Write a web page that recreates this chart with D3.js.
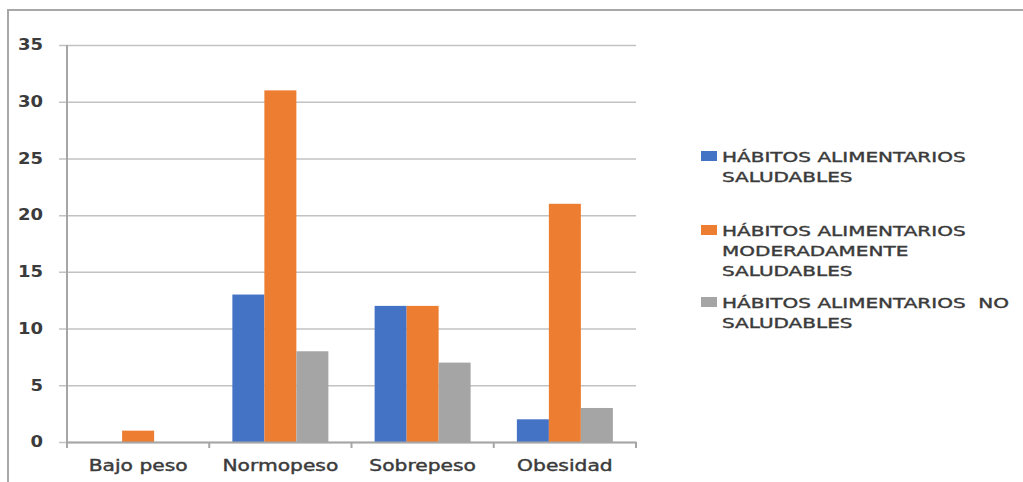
<!DOCTYPE html>
<html>
<head>
<meta charset="utf-8">
<script src="https://cdn.jsdelivr.net/npm/d3@7"></script>
<style>
    body { margin: 0; background: #fff; }
    text { font-family: "DejaVu Sans", sans-serif; fill: #3b3b3b; }
</style>
</head>
<body>
<div class="graph"></div>
<script>
// data ------------------
const categories = ['Bajo peso', 'Normopeso', 'Sobrepeso', 'Obesidad']
const seriesNames = [
    ['HÁBITOS ALIMENTARIOS', 'SALUDABLES'],
    ['HÁBITOS ALIMENTARIOS', 'MODERADAMENTE', 'SALUDABLES'],
    ['HÁBITOS ALIMENTARIOS  NO', 'SALUDABLES']
]
const saludables = [0, 13, 12, 2]
const moderados = [1, 31, 12, 21]
const noSaludables = [0, 8, 7, 3]
const yTicks = [0, 5, 10, 15, 20, 25, 30, 35]

const colours = ['#4472C4', '#ED7D31', '#A5A5A5']
const values = [saludables, moderados, noSaludables]

// text is drawn wider than the font, like the picture
function stretch(sel, k) {
    sel.each(function () {
        const len = this.getComputedTextLength()
        d3.select(this)
            .attr('textLength', len * k)
            .attr('lengthAdjust', 'spacingAndGlyphs')
    })
}

// config
const w = 1023
const h = 482
const plot = { left: 67, right: 636, top: 45, bottom: 442 }
const pad = 0.325

const svg = d3.select('.graph')
    .append('svg')
    .attr('width', w)
    .attr('height', h)

// frame
svg.append('rect')
    .attr('x', 8).attr('y', 10)
    .attr('width', 1100).attr('height', 600)
    .attr('fill', 'none')
    .attr('stroke', '#a8a8a8')
    .attr('stroke-width', 2)

// scales
const xOuter = d3.scaleBand()
    .domain(categories)
    .range([plot.left, plot.right])

const x = d3.scaleBand()
    .domain(categories)
    .range([plot.left, plot.right])
    .paddingInner(pad)
    .paddingOuter(pad / 2)

const xs = d3.scaleBand()
    .domain(d3.range(3))
    .range([0, x.bandwidth()])

const y = d3.scaleLinear()
    .domain([0, 35])
    .range([plot.bottom, plot.top])

// y axis + gridlines
const yAxis = d3.axisLeft(y)
    .tickValues(yTicks)
    .tickSize(0)
    .tickPadding(24)

const gy = svg.append('g')
    .attr('transform', 'translate(' + plot.left + ',0)')
    .call(yAxis)

gy.select('.domain').remove()
gy.selectAll('.tick line')
    .attr('x1', -8)
    .attr('x2', plot.right - plot.left)
    .attr('stroke', '#c2c2c2')
    .attr('stroke-width', 1.5)
gy.selectAll('.tick text')
    .attr('font-size', 15)
    .attr('font-weight', 'bold')
    .attr('fill', '#3b3b3b')
    .attr('font-family', '"DejaVu Sans", sans-serif')
    .call(stretch, 1.2)

// bars
const groups = svg.append('g')
    .selectAll('g')
    .data(categories)
    .join('g')
    .attr('transform', d => 'translate(' + x(d) + ',0)')

groups.selectAll('rect')
    .data((c, i) => values.map((v, s) => ({ s: s, v: v[i] })))
    .join('rect')
    .attr('x', d => xs(d.s))
    .attr('y', d => y(d.v))
    .attr('width', xs.bandwidth())
    .attr('height', d => y(0) - y(d.v))
    .attr('fill', d => colours[d.s])

// vertical axis line
svg.append('line')
    .attr('x1', plot.left).attr('x2', plot.left)
    .attr('y1', plot.top).attr('y2', plot.bottom + 5)
    .attr('stroke', '#a6a6a6')
    .attr('stroke-width', 2)

// x axis
const xAxis = d3.axisBottom(xOuter)
    .tickSize(0)
    .tickPadding(18)
    .tickSizeOuter(0)

const gx = svg.append('g')
    .attr('transform', 'translate(0,' + plot.bottom + ')')
    .call(xAxis)

gx.select('.domain')
    .attr('stroke', '#a6a6a6')
    .attr('stroke-width', 2)
gx.selectAll('.tick text')
    .attr('font-size', 15)
    .attr('fill', '#3b3b3b')
    .attr('stroke', '#3b3b3b')
    .attr('stroke-width', 0.4)
    .attr('font-family', '"DejaVu Sans", sans-serif')
    .call(stretch, 1.35)

// category boundary ticks
const bounds = categories.map(c => xOuter(c)).concat([plot.right])
gx.selectAll('line.bound')
    .data(bounds)
    .join('line')
    .attr('class', 'bound')
    .attr('x1', d => d).attr('x2', d => d)
    .attr('y1', 0).attr('y2', 6)
    .attr('stroke', '#a6a6a6')
    .attr('stroke-width', 2)

// legend
const legendTop = [151, 225, 297]
const legend = svg.append('g')
    .selectAll('g')
    .data(seriesNames)
    .join('g')
    .attr('transform', (d, i) => 'translate(701,' + legendTop[i] + ')')

legend.append('rect')
    .attr('width', 16)
    .attr('height', 10)
    .attr('fill', (d, i) => colours[i])

legend.selectAll('text')
    .data(d => d)
    .join('text')
    .attr('x', 21)
    .attr('y', (d, i) => 11 + i * 20)
    .attr('font-size', 14.5)
    .attr('stroke', '#3b3b3b')
    .attr('stroke-width', 0.4)
    .style('white-space', 'pre')
    .text(d => d)
    .call(stretch, 1.38)
</script>
</body>
</html>
